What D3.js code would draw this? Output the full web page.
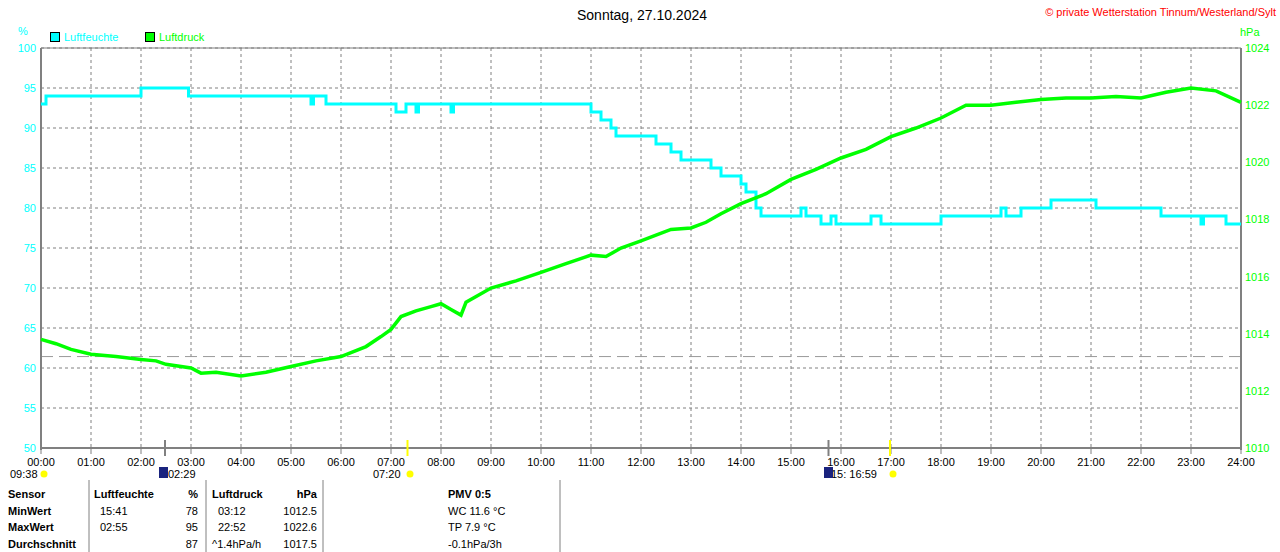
<!DOCTYPE html><html><head><meta charset="utf-8"><script src="https://cdn.jsdelivr.net/npm/d3@7"></script>
<style>body{margin:0;background:#fff}text{font-family:"Liberation Sans",Arial,sans-serif;font-size:11px}</style></head><body><svg id="c" width="1280" height="552"></svg><script>
const hours=d3.range(0,25);
const humTicks=d3.range(50,101,5);
const presTicks=d3.range(1010,1025,2);
const humStep=[[0,93],[0.1,94],[2.0,95],[2.95,94],[5.4,93],[5.45,94],[5.7,93],[7.1,92],[7.3,93],[7.5,92],[7.55,93],[8.2,92],[8.25,93],[11.0,92],[11.2,91],[11.4,90],[11.5,89],[12.3,88],[12.6,87],[12.8,86],[13.4,85],[13.6,84],[14.0,83],[14.1,82],[14.3,80],[14.4,79],[15.2,80],[15.3,79],[15.6,78],[15.8,79],[15.9,78],[16.6,79],[16.8,78],[17.0,78],[18.0,79],[19.2,80],[19.3,79],[19.6,80],[20.2,81],[21.1,80],[22.4,79],[23.2,78],[23.25,79],[23.7,78],[24,78]];
const pres=[[0,1013.8],[0.3,1013.65],[0.6,1013.45],[1,1013.28],[1.5,1013.2],[2,1013.1],[2.3,1013.05],[2.5,1012.93],[3,1012.8],[3.2,1012.62],[3.5,1012.65],[4,1012.52],[4.5,1012.65],[5,1012.85],[5.5,1013.05],[6,1013.2],[6.5,1013.55],[6.8,1013.9],[7,1014.15],[7.2,1014.6],[7.5,1014.8],[7.8,1014.95],[8,1015.05],[8.2,1014.85],[8.4,1014.65],[8.5,1015.1],[8.8,1015.4],[9,1015.6],[9.5,1015.85],[10,1016.15],[10.5,1016.45],[11,1016.75],[11.3,1016.7],[11.6,1017.0],[12,1017.25],[12.3,1017.45],[12.6,1017.65],[13,1017.7],[13.3,1017.9],[13.6,1018.2],[14,1018.55],[14.5,1018.9],[15,1019.4],[15.5,1019.75],[16,1020.15],[16.5,1020.45],[17,1020.9],[17.5,1021.2],[18,1021.55],[18.5,1022.0],[19,1022.0],[19.5,1022.1],[20,1022.2],[20.5,1022.25],[21,1022.25],[21.5,1022.3],[22,1022.25],[22.5,1022.45],[23,1022.6],[23.5,1022.5],[24,1022.1]];
const refLine=1013.2;
const svg=d3.select("#c");
const x=d3.scaleLinear().domain([0,24]).range([41,1241]);
const yH=d3.scaleLinear().domain([50,100]).range([448,48]);
const yP=d3.scaleLinear().domain([1010,1024]).range([448,48]);
const g=svg.append("g");
g.selectAll(".vg").data(hours.slice(1,24)).join("line").attr("x1",d=>x(d)).attr("x2",d=>x(d)).attr("y1",48).attr("y2",448).attr("stroke","#808080").attr("stroke-dasharray","3,3");
g.selectAll(".hg").data(humTicks.slice(1)).join("line").attr("x1",41).attr("x2",1241).attr("y1",d=>yH(d)).attr("y2",d=>yH(d)).attr("stroke","#808080").attr("stroke-dasharray","3,3");
g.append("line").attr("x1",41).attr("x2",1241).attr("y1",yP(refLine)).attr("y2",yP(refLine)).attr("stroke","#999").attr("stroke-dasharray","12,6");
// frame
g.append("line").attr("x1",41).attr("x2",41).attr("y1",48).attr("y2",450).attr("stroke","#808080").attr("stroke-width",2);
g.append("line").attr("x1",1241).attr("x2",1241).attr("y1",48).attr("y2",450).attr("stroke","#808080").attr("stroke-width",2);
g.append("line").attr("x1",40).attr("x2",1242).attr("y1",448).attr("y2",448).attr("stroke","#808080").attr("stroke-width",2);
g.append("line").attr("x1",41).attr("x2",1241).attr("y1",48).attr("y2",48).attr("stroke","#808080").attr("stroke-width",1);
g.selectAll(".xt").data(hours).join("line").attr("x1",d=>x(d)).attr("x2",d=>x(d)).attr("y1",448).attr("y2",454).attr("stroke","#808080");
g.selectAll(".xl").data(hours).join("text").attr("x",d=>x(d)).attr("y",466).attr("text-anchor","middle").text(d=>String(d).padStart(2,"0")+":00");
g.selectAll(".yl").data(humTicks).join("text").attr("x",36).attr("y",d=>yH(d)+4).attr("text-anchor","end").attr("fill","#00ffff").text(d=>d);
g.selectAll(".pl").data(presTicks).join("text").attr("x",1245).attr("y",d=>yP(d)+4).attr("fill","#00ff00").text(d=>d);
g.append("text").attr("x",18).attr("y",35).attr("fill","#00ffff").text("%");
g.append("text").attr("x",1240).attr("y",36).attr("fill","#00ff00").text("hPa");
// sun/moon markers
const marks=[[2.48,"#808080"],[7.33,"#ffff00"],[15.75,"#808080"],[16.98,"#ffff00"]];
g.selectAll(".mk").data(marks).join("line").attr("x1",d=>x(d[0])).attr("x2",d=>x(d[0])).attr("y1",440).attr("y2",456).attr("stroke",d=>d[1]).attr("stroke-width",2);
// lines
g.append("path").datum(humStep).attr("fill","none").attr("stroke","#00ffff").attr("stroke-width",3).attr("d",d3.line().x(d=>x(d[0])).y(d=>yH(d[1])).curve(d3.curveStepAfter));
g.append("path").datum(pres).attr("fill","none").attr("stroke","#00ff00").attr("stroke-width",3.5).attr("d",d3.line().x(d=>x(d[0])).y(d=>yP(d[1])));
// legend
g.append("rect").attr("x",50.5).attr("y",32.5).attr("width",9).attr("height",9).attr("fill","#00ffff").attr("stroke","#000");
g.append("text").attr("x",64).attr("y",41).attr("fill","#00ffff").text("Luftfeuchte");
g.append("rect").attr("x",145.5).attr("y",32.5).attr("width",9).attr("height",9).attr("fill","#00ff00").attr("stroke","#000");
g.append("text").attr("x",159).attr("y",41).attr("fill","#00ff00").text("Luftdruck");
g.append("text").attr("x",642).attr("y",20).attr("text-anchor","middle").style("font-size","14px").text("Sonntag, 27.10.2024");
g.append("text").attr("x",1276).attr("y",16).attr("text-anchor","end").attr("fill","#ff0000").text("© private Wetterstation Tinnum/Westerland/Sylt");
// astro labels
const astro=[[10,"09:38","#ffff00",41],[168,"02:29",null,0],[373,"07:20","#ffff00",407],[831,"15:  16:59","#ffff00",890]];
astro.forEach(a=>{g.append("text").attr("x",a[0]).attr("y",478).text(a[1]);if(a[3])g.append("circle").attr("cx",a[3]+3).attr("cy",474).attr("r",3.5).attr("fill","#ffff00");});
[[159,"#1a237e"],[824,"#1a237e"]].forEach(b=>g.append("rect").attr("x",b[0]).attr("y",467).attr("width",9).attr("height",11).attr("fill",b[1]));
// table
[89,206,323,560].forEach(v=>g.append("line").attr("x1",v).attr("x2",v).attr("y1",480).attr("y2",552).attr("stroke","#808080"));
const rows=[["Sensor","Luftfeuchte","%","Luftdruck","hPa","PMV 0:5"],["MinWert","15:41","78","03:12","1012.5","WC 11.6 °C"],["MaxWert","02:55","95","22:52","1022.6","TP 7.9 °C"],["Durchschnitt","","87","^1.4hPa/h","1017.5","-0.1hPa/3h"]];
rows.forEach((r,i)=>{const yy=498+i*16.5;const b=i==0?"bold":"normal";
g.append("text").attr("x",8).attr("y",yy).attr("font-weight","bold").text(r[0]);
g.append("text").attr("x",i==0?94:100).attr("y",yy).attr("font-weight",b).text(r[1]);
g.append("text").attr("x",198).attr("y",yy).attr("text-anchor","end").attr("font-weight",b).text(r[2]);
g.append("text").attr("x",i==0?212:(i==3?212:218)).attr("y",yy).attr("font-weight",b).text(r[3]);
g.append("text").attr("x",317).attr("y",yy).attr("text-anchor","end").attr("font-weight",b).text(r[4]);
g.append("text").attr("x",448).attr("y",yy).attr("font-weight",b).text(r[5]);});
</script></body></html>
